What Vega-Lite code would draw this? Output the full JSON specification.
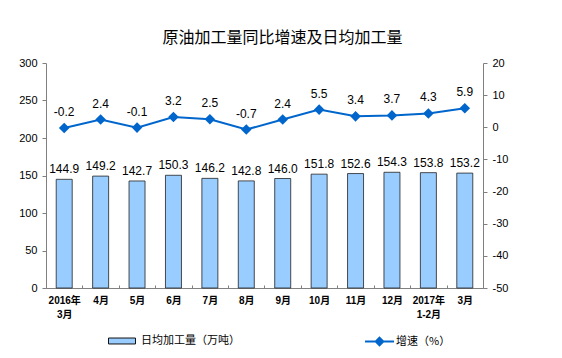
{
  "$schema": "https://vega.github.io/schema/vega-lite/v6.json",
  "autosize": "none",
  "width": 437,
  "height": 225,
  "padding": {"left": 46, "top": 63, "right": 79, "bottom": 70},
  "background": "white",
  "config": {
    "view": {"stroke": null},
    "font": "Liberation Sans, Noto Sans CJK SC",
    "axis": {"domainColor": "#808080", "tickColor": "#808080", "labelColor": "#000", "labelFontSize": 11, "grid": false, "labelOverlap": false}
  },
  "title": {"text": "原油加工量同比增速及日均加工量", "fontSize": 16, "fontWeight": "normal", "font": "Noto Sans CJK SC", "color": "#000", "anchor": "middle", "dx": 18, "offset": 11},
  "data": {"values": [
    {"month": "2016年|3月", "output": 144.9, "growth": -0.2},
    {"month": "4月", "output": 149.2, "growth": 2.4},
    {"month": "5月", "output": 142.7, "growth": -0.1},
    {"month": "6月", "output": 150.3, "growth": 3.2},
    {"month": "7月", "output": 146.2, "growth": 2.5},
    {"month": "8月", "output": 142.8, "growth": -0.7},
    {"month": "9月", "output": 146.0, "growth": 2.4},
    {"month": "10月", "output": 151.8, "growth": 5.5},
    {"month": "11月", "output": 152.6, "growth": 3.4},
    {"month": "12月", "output": 154.3, "growth": 3.7},
    {"month": "2017年|1-2月", "output": 153.8, "growth": 4.3},
    {"month": "3月", "output": 153.2, "growth": 5.9}
  ]},
  "encoding": {
    "x": {"field": "month", "type": "nominal", "sort": null, "scale": {"paddingInner": 0, "paddingOuter": 0},
      "axis": {"title": null, "labelAngle": 0, "labelExpr": "split(datum.label, '|')", "labelFontSize": 10, "labelFontWeight": "bold", "labelLineHeight": 14, "labelPadding": 10, "tickBand": "extent", "tickSize": -3}}
  },
  "layer": [
    {
      "encoding": {
        "y": {"field": "output", "type": "quantitative", "scale": {"domain": [0, 300]}, "axis": {"title": null, "values": [0, 50, 100, 150, 200, 250, 300], "labelOverlap": false, "tickSize": 4, "labelPadding": 5}}
      },
      "layer": [
        {"mark": {"type": "bar", "width": 16, "stroke": "#222", "strokeWidth": 0.8},
         "encoding": {
           "fill": {"datum": "日均加工量（万吨）", "type": "nominal", "scale": {"range": ["#99CCFF"]},
             "legend": {"title": null, "orient": "none", "legendX": 62, "legendY": 264, "symbolType": "M-1,-0.22H1V0.22H-1Z", "symbolSize": 729, "symbolStrokeColor": "#111", "symbolStrokeWidth": 1, "labelFontSize": 11, "labelFont": "Noto Sans CJK SC", "labelColor": "#000", "labelOffset": 5}}
         }},
        {"mark": {"type": "text", "dy": -10, "fontSize": 12, "color": "#000"},
         "encoding": {
           "text": {"field": "output", "type": "quantitative", "format": ".1f"}
         }}
      ]
    },
    {
      "encoding": {
        "y": {"field": "growth", "type": "quantitative", "scale": {"domain": [-50, 20]}, "axis": {"orient": "right", "title": null, "values": [-50, -40, -30, -20, -10, 0, 10, 20], "labelOverlap": false, "labelExpr": "replace(datum.label, '−', '-')", "tickSize": 4, "labelPadding": 5}}
      },
      "layer": [
        {"mark": {"type": "line", "strokeWidth": 2, "point": {"shape": "diamond", "size": 60, "filled": true, "color": "#0066CC"}},
         "encoding": {
           "stroke": {"datum": "增速（%）", "type": "nominal", "scale": {"range": ["#0066CC"]},
             "legend": {"title": null, "orient": "none", "legendX": 318, "legendY": 263, "symbolType": "M-1,0H1M0,-0.26L0.26,0L0,0.26L-0.26,0Z", "symbolSize": 841, "symbolFillColor": "#0066CC", "symbolStrokeWidth": 2, "labelFontSize": 11, "labelFont": "Noto Sans CJK SC", "labelColor": "#000", "labelOffset": 1}}
         }},
        {"mark": {"type": "text", "dy": -16, "fontSize": 12, "color": "#000"},
         "encoding": {
           "text": {"field": "growth", "type": "nominal"}
         }}
      ]
    }
  ],
  "resolve": {"scale": {"y": "independent"}}
}
